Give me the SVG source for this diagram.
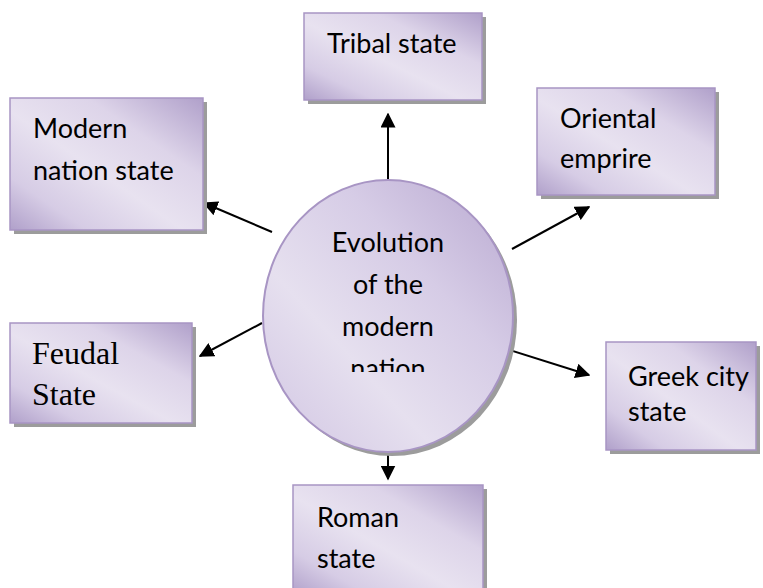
<svg xmlns="http://www.w3.org/2000/svg" width="763" height="588" viewBox="0 0 763 588">
  <defs>
    <!-- soft lavender fill, darker toward two opposite corners -->
    <linearGradient id="lav" x1="1" y1="0" x2="0" y2="1">
      <stop offset="0" stop-color="#b0a0ca"/>
      <stop offset="0.3" stop-color="#ddd4e9"/>
      <stop offset="0.55" stop-color="#e8e2f0"/>
      <stop offset="0.8" stop-color="#d6cce5"/>
      <stop offset="1" stop-color="#b0a0ca"/>
    </linearGradient>
    <linearGradient id="lavCircle" x1="1" y1="0" x2="0" y2="1">
      <stop offset="0" stop-color="#b8a8d0"/>
      <stop offset="0.35" stop-color="#d6cce6"/>
      <stop offset="0.65" stop-color="#e6e0ef"/>
      <stop offset="1" stop-color="#d0c4e2"/>
    </linearGradient>
    <marker id="arrow" viewBox="0 0 10 10" refX="9" refY="5" markerWidth="7.5" markerHeight="7.5" markerUnits="strokeWidth" orient="auto">
      <path d="M0,0 L10,5 L0,10 z" fill="#000"/>
    </marker>
    <clipPath id="centerText">
      <rect x="270" y="180" width="240" height="192"/>
    </clipPath>
  </defs>
  <style>
    .shadow { fill: #9c9c9c; }
    .box { fill: url(#lav); stroke: #a895c4; stroke-width: 1.5; }
    .label { font-family: Lato, "Open Sans", sans-serif; font-size: 27px; fill: #000; }
    .serif { font-family: "Liberation Serif", "Times New Roman", serif; font-size: 32px; fill: #000; }
    .conn { stroke: #000; stroke-width: 2; fill: none; marker-end: url(#arrow); }
  </style>

  <rect width="763" height="588" fill="#fff"/>

  <!-- connectors -->
  <g id="connectors">
    <line class="conn" x1="388" y1="180" x2="388" y2="114"/>
    <line class="conn" x1="272" y1="232" x2="204" y2="203"/>
    <line class="conn" x1="512" y1="249" x2="589" y2="207"/>
    <line class="conn" x1="262" y1="323" x2="200" y2="356"/>
    <line class="conn" x1="503" y1="348" x2="589" y2="375"/>
    <line class="conn" x1="388" y1="452" x2="388" y2="479"/>
  </g>

  <!-- central topic -->
  <g id="center">
    <ellipse class="shadow" cx="392" cy="320" rx="125" ry="136"/>
    <ellipse cx="388" cy="316" rx="125" ry="136" fill="url(#lavCircle)" stroke="#a895c4" stroke-width="2"/>
    <g clip-path="url(#centerText)" text-anchor="middle" class="label">
      <text x="388" y="252">Evolution</text>
      <text x="388" y="294">of the</text>
      <text x="388" y="336">modern</text>
      <text x="388" y="378">nation</text>
    </g>
  </g>

  <g id="tribal">
    <rect class="shadow" x="308" y="17" width="178" height="87"/>
    <rect class="box" x="304" y="13" width="178" height="87"/>
    <text class="label" x="327" y="53">Tribal state</text>
  </g>

  <g id="modern">
    <rect class="shadow" x="14" y="102" width="193" height="132"/>
    <rect class="box" x="10" y="98" width="193" height="132"/>
    <text class="label" x="33" y="138">Modern</text>
    <text class="label" x="33" y="180">nation state</text>
  </g>

  <g id="oriental">
    <rect class="shadow" x="541" y="92" width="178" height="107"/>
    <rect class="box" x="537" y="88" width="178" height="107"/>
    <text class="label" x="560" y="128">Oriental</text>
    <text class="label" x="560" y="168">emprire</text>
  </g>

  <g id="feudal">
    <rect class="shadow" x="14" y="327" width="182" height="100"/>
    <rect class="box" x="10" y="323" width="182" height="100"/>
    <text class="serif" x="32" y="364">Feudal</text>
    <text class="serif" x="32" y="405">State</text>
  </g>

  <g id="greek">
    <rect class="shadow" x="610" y="346" width="150" height="108"/>
    <rect class="box" x="606" y="342" width="150" height="108"/>
    <text class="label" x="628" y="386">Greek city</text>
    <text class="label" x="628" y="421">state</text>
  </g>

  <g id="roman">
    <rect class="shadow" x="297" y="489" width="190" height="110"/>
    <rect class="box" x="293" y="485" width="190" height="110"/>
    <text class="label" x="317" y="527">Roman</text>
    <text class="label" x="317" y="568">state</text>
  </g>
</svg>
